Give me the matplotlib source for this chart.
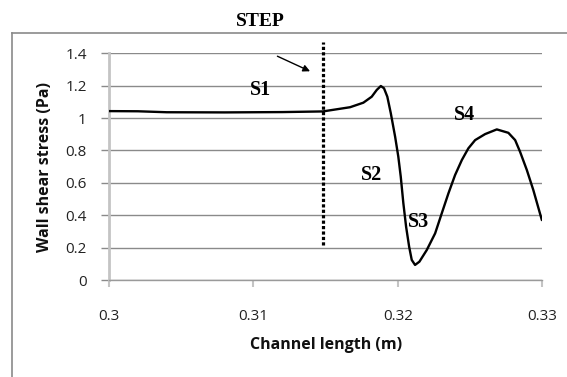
import matplotlib
matplotlib.use("Agg")
import matplotlib.pyplot as plt
from matplotlib.lines import Line2D

# ---- data ----
channel_length = [0.3000, 0.3020, 0.3040, 0.3080, 0.3120, 0.3148,
                  0.31669, 0.31761, 0.31819, 0.31854, 0.31882, 0.31904,
                  0.31927, 0.31951, 0.31981, 0.32003, 0.32020, 0.32038,
                  0.32057, 0.32078, 0.32096, 0.32119, 0.32149, 0.32200,
                  0.32258, 0.32304, 0.32350, 0.32396, 0.32443, 0.32488,
                  0.32535, 0.32604, 0.32685, 0.32765, 0.32812, 0.32846,
                  0.32893, 0.32938, 0.32997]
wall_shear = [1.043, 1.042, 1.036, 1.035, 1.037, 1.041,
              1.067, 1.095, 1.132, 1.174, 1.198, 1.184,
              1.132, 1.030, 0.885, 0.762, 0.638, 0.474,
              0.329, 0.206, 0.124, 0.093, 0.113, 0.185,
              0.288, 0.412, 0.535, 0.648, 0.741, 0.813,
              0.864, 0.901, 0.930, 0.909, 0.864, 0.792,
              0.679, 0.555, 0.370]

step_x = 0.3148
step_y = [0.216, 1.47]
arrow_tail = (0.31166, 1.382)
arrow_head = (0.31392, 1.289)

region_labels = ["S1", "S2", "S3", "S4"]
region_x = [0.31046, 0.31819, 0.32142, 0.32458]
region_y = [1.172, 0.648, 0.36, 1.018]

x_ticks = [0.3, 0.31, 0.32, 0.33]
x_tick_labels = ["0.3", "0.31", "0.32", "0.33"]
y_ticks = [0, 0.2, 0.4, 0.6, 0.8, 1.0, 1.2, 1.4]
y_tick_labels = ["0", "0.2", "0.4", "0.6", "0.8", "1", "1.2", "1.4"]

W, H = 567, 377
fig = plt.figure(figsize=(W / 100, H / 100), dpi=100)
ax = fig.add_axes([109 / W, 1 - 280 / H, (542.3 - 109) / W, (280 - 53.3) / H])

ax.set_xlim(0.3, 0.33)
ax.set_ylim(0, 1.4)

ax.set_yticks(y_ticks)
ax.set_yticklabels(y_tick_labels)
ax.set_xticks(x_ticks)
ax.set_xticklabels(x_tick_labels)
ax.yaxis.grid(True, color="#8a8a8a", lw=1.0)
ax.set_axisbelow(True)

for s in ["top", "right"]:
    ax.spines[s].set_visible(False)
ax.spines["left"].set_color("#c4c4c4")
ax.spines["left"].set_linewidth(2.0)
ax.spines["bottom"].set_color("#9a9a9a")
ax.spines["bottom"].set_linewidth(1.0)

ax.tick_params(axis="y", direction="out", length=6, width=1, color="#8a8a8a",
               pad=10, labelcolor="#222222")
ax.tick_params(axis="x", direction="out", length=5, width=1.5, color="#c4c4c4",
               pad=16, labelcolor="#222222")
for lab in ax.get_xticklabels() + ax.get_yticklabels():
    lab.set_fontfamily("Open Sans")
    lab.set_fontsize(11)

ax.set_xlabel("Channel length (m)", family="Open Sans", fontweight="bold",
              fontsize=11.5, labelpad=9, color="#111111")
ax.set_ylabel("Wall shear stress (Pa)", family="Open Sans", fontweight="bold",
              fontsize=11.5, labelpad=9, color="#111111")

# main curve
ax.plot(channel_length, wall_shear, color="black", lw=1.7, solid_joinstyle="round",
        solid_capstyle="round", zorder=3)

# step dotted line
ax.plot([step_x, step_x], step_y, color="black", lw=2.3,
        linestyle=(0, (1, 0.7)), dash_capstyle="butt", clip_on=False, zorder=4)

# arrow
ax.annotate("", xy=arrow_head, xytext=arrow_tail,
            arrowprops=dict(arrowstyle="-|>", color="black", lw=1.0,
                            mutation_scale=10, shrinkA=0, shrinkB=0),
            annotation_clip=False)

for lab, xx, yy in zip(region_labels, region_x, region_y):
    ax.text(xx, yy, lab, family="Liberation Serif", fontweight="bold",
            fontsize=14.5, ha="center", va="center", zorder=5)

fig.text(260 / W, 1 - 21.7 / H, "STEP", family="Liberation Serif",
         fontweight="bold", fontsize=14, ha="center", va="center")

# chart-area frame (partially cropped)
fig.add_artist(Line2D([11.7 / W, 1.0], [1 - 33.3 / H, 1 - 33.3 / H],
                      transform=fig.transFigure, color="#8a8a8a", lw=1.2))
fig.add_artist(Line2D([11.7 / W, 11.7 / W], [1 - 33.3 / H, 0.0],
                      transform=fig.transFigure, color="#8a8a8a", lw=1.2))

fig.savefig("out.png", dpi=100)
